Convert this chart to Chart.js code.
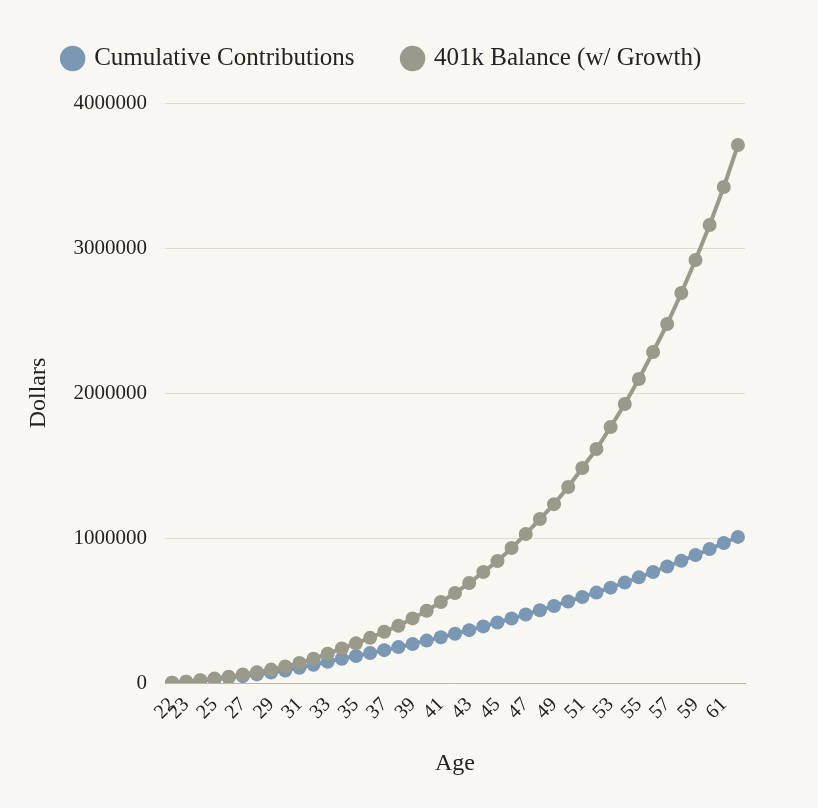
<!DOCTYPE html>
<html>
<head>
<meta charset="utf-8">
<script src="https://cdn.jsdelivr.net/npm/chart.js@4/dist/chart.umd.min.js"></script>
<style>
  html, body { margin: 0; padding: 0; background: #f9f7f2; }
  #wrap { width: 818px; height: 808px; position: relative; }
</style>
</head>
<body>
<div id="wrap"><canvas id="retirementChart"></canvas></div>
<script>
// ages along the x axis (41 points)
const ages = [22, 23, 24, 25, 26, 27, 28, 29, 30, 31, 32, 33, 34, 35, 36, 37, 38, 39, 40, 41,
  42, 43, 44, 45, 46, 47, 48, 49, 50, 51, 52, 53, 54, 55, 56, 57, 58, 59, 60, 61, 62];

// values, in dollars
const contributions = [3000, 10000, 18000, 27000, 37000, 48000, 60000, 73000, 87000, 106000,
  126000, 147000, 168000, 187000, 207000, 227000, 248000, 270000, 293000, 316000,
  340000, 365000, 391000, 418000, 445000, 473000, 502000, 532000, 563000, 594000,
  624000, 658000, 693000, 729000, 766000, 804000, 843000, 883000, 924000, 966000, 1008000];

const balance = [3000, 10000, 20000, 31000, 44000, 59000, 75000, 93000, 114000, 139000,
  168000, 202000, 239000, 274000, 312000, 354000, 395000, 446000, 499000, 559000,
  621000, 690000, 766000, 841000, 931000, 1028000, 1131000, 1234000, 1352000, 1483000,
  1614000, 1766000, 1924000, 2097000, 2283000, 2476000, 2690000, 2917000, 3159000, 3421000, 3710000];

const yTicks = [0, 1000000, 2000000, 3000000, 4000000];

const serif = "'Liberation Serif', 'DejaVu Serif', serif";
const blue = "#7a97b4";
const grey = "#9a9a8a";

// extra room under the legend
const legendGap = {
  id: "legendGap",
  beforeInit(chart) {
    const fit = chart.legend.fit;
    chart.legend.fit = function () {
      fit.call(this);
      this.height += 22;
    };
  },
};

const ctx = document.getElementById("retirementChart").getContext("2d");
new Chart(ctx, {
  type: "line",
  data: {
    labels: ages,
    datasets: [
      {
        label: "Cumulative Contributions",
        data: contributions,
        borderColor: blue,
        backgroundColor: blue,
        borderWidth: 4,
        pointRadius: 7,
        pointBorderWidth: 0,
        tension: 0,
        order: 1,
      },
      {
        label: "401k Balance (w/ Growth)",
        data: balance,
        borderColor: grey,
        backgroundColor: grey,
        borderWidth: 4,
        pointRadius: 7,
        pointBorderWidth: 0,
        tension: 0,
        order: 0, // grey line sits on top
      },
    ],
  },
  options: {
    responsive: true,
    maintainAspectRatio: false,
    animation: false,
    layout: { padding: { left: 20, right: 73, top: 22, bottom: 26 } },
    plugins: {
      tooltip: { enabled: false },
      legend: {
        position: "top",
        labels: {
          usePointStyle: true,
          pointStyle: "circle",
          boxWidth: 18,
          boxHeight: 18,
          padding: 24,
          color: "#222",
          font: { family: serif, size: 25 },
          sort: (a, b) => a.datasetIndex - b.datasetIndex,
          // wider gap after the first item
          generateLabels: (chart) =>
            Chart.defaults.plugins.legend.labels
              .generateLabels(chart)
              .map((item) => (item.datasetIndex === 0 ? { ...item, text: item.text + "    " } : item)),
        },
      },
    },
    scales: {
      x: {
        offset: true,
        grid: { display: false, drawTicks: false },
        border: { display: true, color: "#b8b6af", width: 1 },
        ticks: {
          autoSkip: false,
          maxRotation: 45,
          minRotation: 45,
          padding: 10,
          color: "#222",
          font: { family: serif, size: 20 },
          callback: (val, i) => (i === 0 || (i % 2 === 1 && i < ages.length - 1) ? ages[i] : null),
        },
        title: {
          display: true,
          text: "Age",
          color: "#222",
          font: { family: serif, size: 24 },
          padding: { top: 15 },
        },
      },
      y: {
        min: 0,
        max: 4000000,
        afterBuildTicks: (scale) => {
          scale.ticks = yTicks.map((v) => ({ value: v }));
        },
        afterFit: (scale) => {
          scale.width = 145;
        },
        grid: { color: "#dedbd4", drawTicks: false },
        border: { display: false },
        ticks: {
          padding: 18,
          color: "#222",
          font: { family: serif, size: 21 },
          callback: (val) => String(val),
        },
        title: {
          display: true,
          text: "Dollars",
          color: "#222",
          font: { family: serif, size: 24 },
        },
      },
    },
  },
  plugins: [legendGap],
});
</script>
</body>
</html>
